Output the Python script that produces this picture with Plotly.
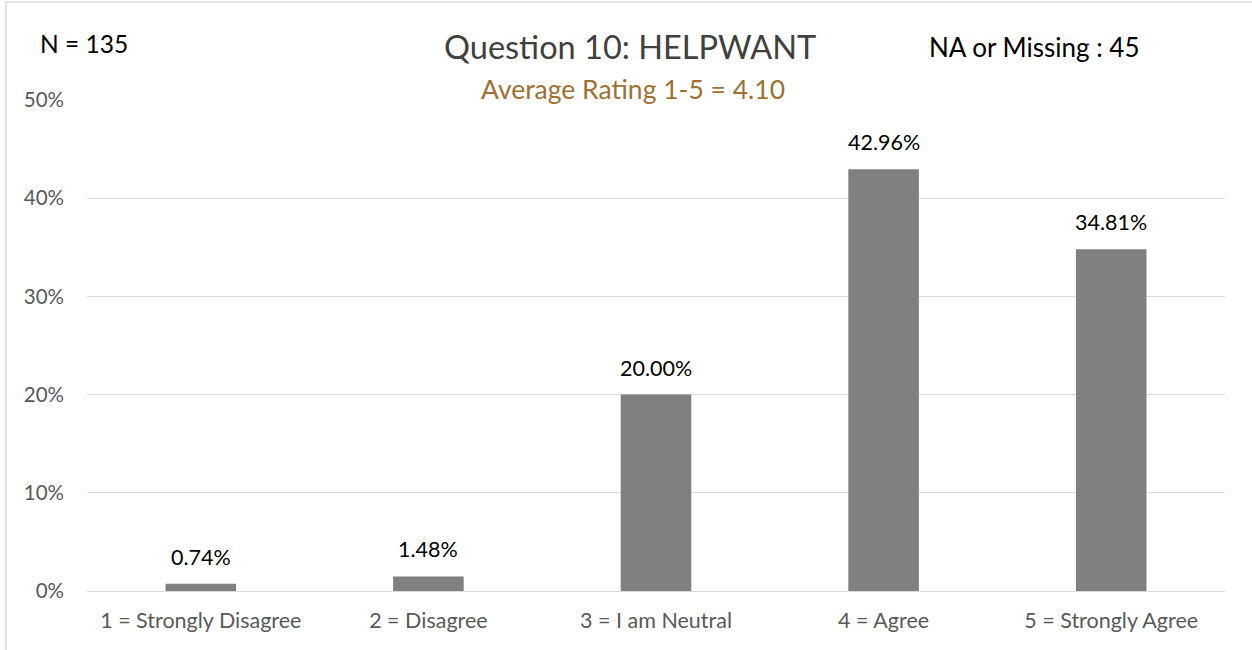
import plotly.graph_objects as go

categories = ["1 = Strongly Disagree", "2 = Disagree", "3 = I am Neutral", "4 = Agree", "5 = Strongly Agree"]
shares = [0.0074, 0.0148, 0.2000, 0.4296, 0.3481]
y_ticks = [0, 0.1, 0.2, 0.3, 0.4, 0.5]

title_text = "Question 10: HELPWANT"
subtitle_text = "Average Rating 1-5 = 4.10"
n_text = "N = 135"
missing_text = "NA or Missing : 45"

FONT = "Lato, 'Open Sans', sans-serif"

fig = go.Figure()
fig.add_trace(go.Bar(
    x=categories, y=shares,
    marker=dict(color="#808080", line=dict(width=0)),
    hovertemplate="%{x}: %{y:.2%}<extra></extra>",
))

# data labels above each bar
for cat, v in zip(categories, shares):
    fig.add_annotation(
        x=cat, y=v, xref="x", yref="y", text=f"{v:.2%}",
        showarrow=False, yanchor="middle", yshift=27,
        font=dict(family=FONT, size=21.5, color="#000000"),
    )

fig.update_layout(
    width=1252, height=650,
    margin=dict(l=87, r=27, t=100, b=59),
    paper_bgcolor="white", plot_bgcolor="white",
    bargap=0.69,
    showlegend=False,
    font=dict(family=FONT, size=20, color="#595959"),
)

fig.update_yaxes(
    range=[0, 0.5], tickvals=y_ticks, tickformat=".0%",
    showgrid=True, gridcolor="#d9d9d9", gridwidth=1,
    zeroline=False, showline=False,
    tickfont=dict(size=20.5, color="#595959"),
    ticklabelstandoff=22,
)
fig.update_xaxes(
    showline=True, linecolor="#d9d9d9", linewidth=1,
    tickfont=dict(size=21.5, color="#595959"),
    ticks="", ticklabelstandoff=10,
)

# chart border
fig.add_shape(type="rect", xref="paper", yref="paper",
              x0=-81 / 1138, x1=1.1, y0=-0.3, y1=1 + 98 / 491,
              line=dict(color="#d9d9d9", width=1.5), layer="below")

annotations = [
    dict(text=title_text, x=630, y=47, font=dict(size=32.5, color="#404040")),
    dict(text=subtitle_text, x=633, y=89, font=dict(size=26.5, color="#9E7034")),
    dict(text=n_text, x=84, y=44, font=dict(size=24.5, color="#000000")),
    dict(text=missing_text, x=1034, y=47, font=dict(size=26, color="#000000")),
]
for a in annotations:
    fig.add_annotation(
        text=a["text"], xref="paper", yref="paper",
        x=(a["x"] - 87) / 1138, y=1 - (a["y"] - 100) / 491,
        xanchor="center", yanchor="middle", showarrow=False,
        font=dict(family=FONT, **a["font"]),
    )

fig.write_html("out.html", config={"displayModeBar": False},
               post_script="document.body.style.margin='0';")
